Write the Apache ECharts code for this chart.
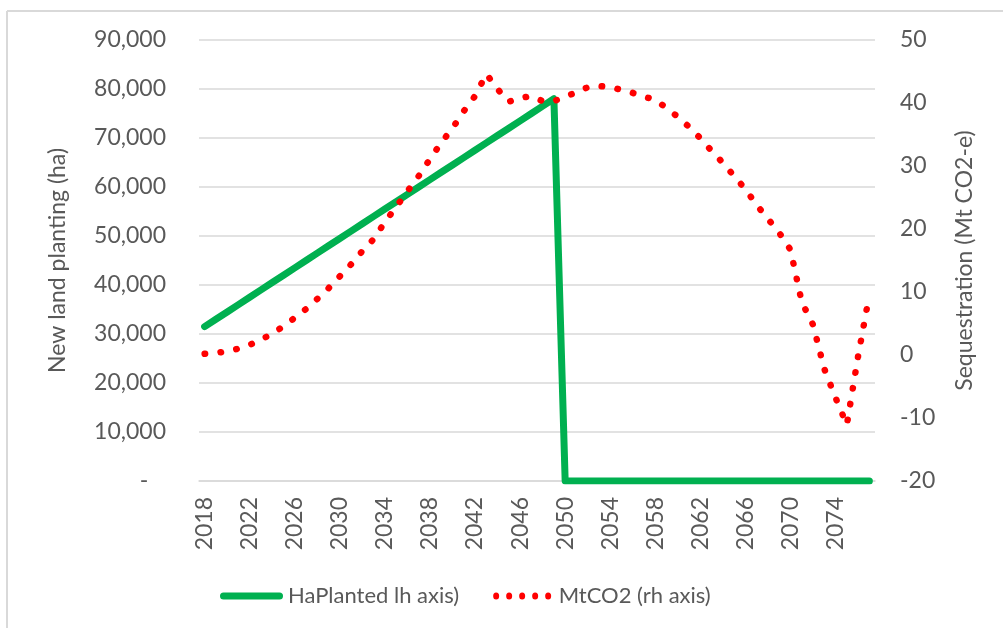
<!DOCTYPE html>
<html>
<head>
<meta charset="utf-8">
<script src="https://cdn.jsdelivr.net/npm/echarts@6/dist/echarts.min.js"></script>
<style>
html,body{margin:0;padding:0;background:#fff;}
#chart{width:1003px;height:628px;}
</style>
</head>
<body>
<div id="chart"></div>
<script>
var years = [];
for (var y = 2018; y <= 2077; y++) years.push(String(y));

var haPlanted = [
  31500, 33000, 34500, 36000, 37500, 39000, 40500, 42000, 43500, 45000,
  46500, 48000, 49500, 51000, 52500, 54000, 55500, 57000, 58500, 60000,
  61500, 63000, 64500, 66000, 67500, 69000, 70500, 72000, 73500, 75000,
  76500, 78000,
  0, 0, 0, 0, 0, 0, 0, 0, 0, 0,
  0, 0, 0, 0, 0, 0, 0, 0, 0, 0,
  0, 0, 0, 0, 0, 0, 0, 0
];

var mtCO2 = [
  0.2, 0.3, 0.6, 1.0, 1.6, 2.5, 3.3, 4.6, 5.9, 7.3,
  8.9, 10.6, 12.5, 14.4, 16.5, 18.4, 21.1, 23.5, 26.0, 28.4,
  31.1, 33.7, 36.0, 38.7, 41.1, 44.6, 42.2, 40.2, 40.8, 41.1,
  40.3, 40.3, 41.0, 41.7, 42.5, 42.7, 42.5, 42.1, 41.6, 41.0,
  40.5, 39.2, 37.8, 36.2, 34.4, 32.4, 30.5, 28.4, 26.3, 23.8,
  21.6, 19.4, 16.7, 8.4, 4.8, -2.2, -6.8, -11.1, -0.2, 9.6
];

var seriesNames = ['HaPlanted lh axis)', 'MtCO2 (rh axis)'];
var leftAxisName = 'New land planting (ha)';
var rightAxisName = 'Sequestration (Mt CO2-e)';

var FONT = 'Lato';
var TXT = '#595959';
var GRID = '#D9D9D9';

// legend icon shapes
var capsuleIcon = 'path://M3.5,0 L59.5,0 A3.5,3.5 0 0 1 59.5,7 L3.5,7 A3.5,3.5 0 0 1 3.5,0 Z';
var dotsIcon = 'path://' + [3, 16, 29, 42, 55].map(function (c) {
  return 'M' + (c - 3) + ',3.5 A3,3.5 0 1 0 ' + (c + 3) + ',3.5 A3,3.5 0 1 0 ' + (c - 3) + ',3.5 Z';
}).join(' ');

var chart = echarts.init(document.getElementById('chart'), null, {renderer: 'canvas'});
chart.setOption({
  backgroundColor: '#ffffff',
  animation: false,
  textStyle: {fontFamily: FONT},
  graphic: [
    {type: 'line', shape: {x1: 7, y1: 11, x2: 1003, y2: 11}, style: {stroke: GRID, lineWidth: 2}},
    {type: 'line', shape: {x1: 7, y1: 11, x2: 7, y2: 628}, style: {stroke: GRID, lineWidth: 2}}
  ],
  grid: {left: 199, right: 128, top: 40, bottom: 147},
  legend: {
    bottom: 16,
    left: 215,
    itemGap: 34,
    itemWidth: 63,
    itemHeight: 7,
    textStyle: {color: TXT, fontSize: 22, fontFamily: FONT},
    data: [
      {name: seriesNames[0], icon: capsuleIcon, itemStyle: {color: '#00B050'}},
      {name: seriesNames[1], icon: dotsIcon, itemStyle: {color: '#FF0000'}}
    ]
  },
  xAxis: {
    type: 'category',
    data: years,
    boundaryGap: true,
    axisLine: {lineStyle: {color: GRID, width: 1.5}},
    axisTick: {show: false},
    axisLabel: {
      interval: 3,
      rotate: 90,
      color: TXT,
      fontSize: 23,
      fontFamily: FONT,
      margin: 16
    },
    splitLine: {show: false}
  },
  yAxis: [
    {
      type: 'value',
      min: 0, max: 90000, interval: 10000,
      name: leftAxisName,
      nameLocation: 'middle',
      nameRotate: 90,
      nameGap: 130,
      nameTextStyle: {color: TXT, fontSize: 23, fontFamily: FONT},
      axisLine: {show: false},
      axisTick: {show: false},
      splitLine: {lineStyle: {color: GRID, width: 1.5}},
      axisLabel: {
        color: TXT, fontSize: 23, fontFamily: FONT, margin: 33,
        formatter: function (v) { return v === 0 ? '-   ' : v.toLocaleString('en-US'); }
      }
    },
    {
      type: 'value',
      min: -20, max: 50, interval: 10,
      name: rightAxisName,
      nameLocation: 'middle',
      nameRotate: 90,
      nameGap: 78,
      nameTextStyle: {color: TXT, fontSize: 23, fontFamily: FONT},
      axisLine: {show: false},
      axisTick: {show: false},
      splitLine: {show: false},
      axisLabel: {color: TXT, fontSize: 23, fontFamily: FONT, margin: 25}
    }
  ],
  series: [
    {
      name: seriesNames[0],
      type: 'line',
      yAxisIndex: 0,
      data: haPlanted,
      symbol: 'none',
      showSymbol: false,
      lineStyle: {color: '#00B050', width: 7, cap: 'round', join: 'round'},
      itemStyle: {color: '#00B050'},
      z: 2
    },
    {
      name: seriesNames[1],
      type: 'line',
      yAxisIndex: 1,
      data: mtCO2,
      symbol: 'none',
      showSymbol: false,
      lineStyle: {color: '#FF0000', width: 6.5, type: [0.5, 15.5], cap: 'round', join: 'round'},
      itemStyle: {color: '#FF0000'},
      z: 3
    }
  ]
});
</script>
</body>
</html>
